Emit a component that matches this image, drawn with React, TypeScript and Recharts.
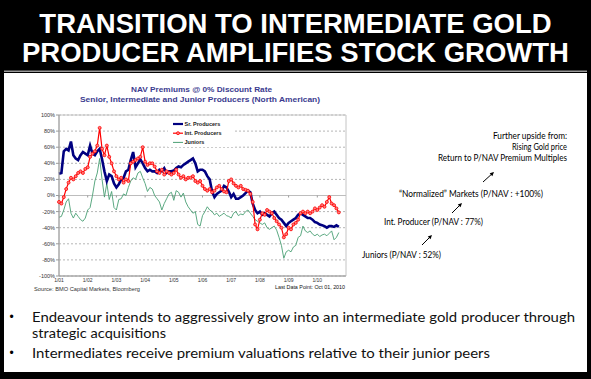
import React from "react";
import { LineChart, Line, XAxis, YAxis, CartesianGrid, ReferenceLine, ReferenceArea, Legend } from "recharts";

// Monthly readings, Jan 2001 .. Oct 2010 (NAV premium, %)
const srProducers = [
  27, 28, 55, 58, 56, 67, 50, 46, 44, 50, 54, 52,
  50, 62, 52, 50, 55, 58, 45, 30, 18, 26, 24, 15,
  10, 14, 20, 22, 30, 32, 44, 54, 35, 40, 45, 40,
  34, 30, 32, 30, 30, 28, 32, 30, 34, 28, 30, 30,
  31, 34, 36, 35, 38, 40, 42, 44, 46, 40, 30, 32,
  32, 30, 24, 20, 5, -2, 2, 4, 6, 12, 10, 5,
  -2, 2, -4, -4, -2, 0, 3, 6, 4, -10, -18, -22,
  -20, -24, -22, -24, -26, -22, -20, -24, -28, -30, -34, -38,
  -34, -32, -30, -28, -24, -22, -24, -26, -28, -28, -30, -33,
  -34, -36, -37, -38, -40, -38, -38, -39, -37, -39,
];
const intProducers = [
  -8, -10, -2, 8, 16, 22, 20, 24, 28, 30, 28, 33,
  35, 48, 52, 55, 62, 84, 58, 50, 62, 48, 40, 30,
  24, 20, 22, 16, 20, 18, 40, 42, 44, 46, 48, 60,
  42, 38, 40, 40, 36, 30, 28, 32, 26, 30, 28, 26,
  28, 32, 26, 22, 24, 20, 22, 22, 24, 18, 16, 18,
  12, 8, 6, 8, 4, 6, 10, 12, 8, 5, 4, 18,
  20, 15, 12, 10, 12, 8, 7, 6, 2, -8, -36, -42,
  -30, -22, -24, -18, -20, -22, -28, -32, -36, -40, -52, -48,
  -40, -42, -36, -34, -30, -22, -20, -22, -20, -22, -20, -16,
  -18, -15, -12, -14, -8, -2, -10, -12, -16, -21,
];
const juniors = [
  -27, -26, -18, -8, -4, -22, -28, -22, -26, -30, -32, -28,
  -18, -15, 0, 18, 28, 46, 20, -2, 15, -5, 5, -15,
  -18, -5, -4, 2, 0, 10, 18, 22, 20, 28, 30, 22,
  15, 5, 10, 8, 0, -4, -8, -18, -10, -4, 2, 4,
  -6, 6, 4, -2, 3, -8, -14, -18, -22, -20, -36, -38,
  -25, -20, -14, -18, -20, -24, -22, -26, -24, -22, -25, -26,
  -28, -22, -20, -25, -23, -24, -20, -18, -22, -26, -30, -32,
  -34, -36, -34, -40, -42, -40, -38, -43, -52, -62, -78, -70,
  -68, -70, -64, -62, -52, -50, -38, -44, -46, -44, -48, -50,
  -48, -51, -49, -48, -50, -47, -44, -55, -52, -46,
];

const yearTickLabels = ["1/01", "1/02", "1/03", "1/04", "1/05", "1/06", "1/07", "1/08", "1/09", "1/10"];
const yTicks = [-100, -80, -60, -40, -20, 0, 20, 40, 60, 80, 100];
const seriesNames = ["Sr. Producers", "Int. Producers", "Juniors"];
const seriesColors = ["#000080", "#ff0000", "#4a9f74"];

const data = srProducers.map((v, i) => ({
  month: i,
  sr: v,
  int: intProducers[i],
  jr: juniors[i],
}));
const xTicks = yearTickLabels.map((_, i) => i * 12);

const ARIAL = "'Liberation Sans', Arial, sans-serif";
const CAL = "Lato, 'Open Sans', sans-serif";

const renderLegend = () => (
  <svg width={66} height={29} style={{ display: "block" }}>
    <rect x={0} y={0} width={66} height={29} fill="#fff" />
    {seriesNames.map((name, i) => {
      const cy = 6 + i * 9.2;
      return (
        <g key={name}>
          <line x1={5} x2={15} y1={cy} y2={cy} stroke={seriesColors[i]} strokeWidth={i === 0 ? 2.2 : i === 1 ? 1.2 : 1} />
          {i === 1 && <circle cx={10} cy={cy} r={1.5} fill="#ff8080" stroke="#ff0000" strokeWidth={0.8} />}
          <text x={16.5} y={cy + 1.9} fontSize={5.5} fontWeight="bold" fontFamily={ARIAL} fill="#222">
            {name}
          </text>
        </g>
      );
    })}
  </svg>
);

const Arrow = ({ x1, y1, x2, y2 }: { x1: number; y1: number; x2: number; y2: number }) => {
  const a = Math.atan2(y2 - y1, x2 - x1);
  const L = 4.5;
  const w = 0.45;
  const p1 = [x2 - L * Math.cos(a - w), y2 - L * Math.sin(a - w)];
  const p2 = [x2 - L * Math.cos(a + w), y2 - L * Math.sin(a + w)];
  return (
    <g>
      <line x1={x1} y1={y1} x2={x2 - 2 * Math.cos(a)} y2={y2 - 2 * Math.sin(a)} stroke="#000" strokeWidth={1} />
      <polygon points={`${x2},${y2} ${p1[0]},${p1[1]} ${p2[0]},${p2[1]}`} fill="#000" />
    </g>
  );
};

export default function App() {
  return (
    <div style={{ position: "fixed", left: 0, top: 0, width: 591, height: 379, overflow: "hidden", background: "#000" }}>
      <svg width={591} height={379} style={{ position: "absolute", left: 0, top: 0 }}>
        <rect x={0} y={0} width={591} height={379} fill="#000" />
        <rect x={4} y={70.5} width={583} height={1.5} fill="#9a9a9a" />
        <rect x={4} y={73} width={583} height={299} fill="#fff" />
        <text x={295.5} y={32.5} textAnchor="middle" fontFamily={ARIAL} fontWeight="bold" fontSize={27.5} fill="#fff">
          TRANSITION TO INTERMEDIATE GOLD
        </text>
        <text x={295.5} y={62} textAnchor="middle" fontFamily={ARIAL} fontWeight="bold" fontSize={27.5} fill="#fff">
          PRODUCER AMPLIFIES STOCK GROWTH
        </text>

        <text x={131} y={92} fontFamily={ARIAL} fontWeight="bold" fontSize={7.4} fill="#3b3b8f" textLength={141} lengthAdjust="spacingAndGlyphs">
          NAV Premiums @ 0% Discount Rate
        </text>
        <text x={80} y={102} fontFamily={ARIAL} fontWeight="bold" fontSize={7} fill="#3b3b8f" textLength={240} lengthAdjust="spacingAndGlyphs">
          Senior, Intermediate and Junior Producers (North American)
        </text>

        <text x={34} y={291} fontFamily={ARIAL} fontSize={5.5} fill="#333" textLength={106} lengthAdjust="spacingAndGlyphs">
          Source: BMO Capital Markets, Bloomberg
        </text>
        <text x={275} y={289} fontFamily={ARIAL} fontSize={6} fill="#111" textLength={70} lengthAdjust="spacingAndGlyphs">
          Last Data Point: Oct 01, 2010
        </text>

        <text x={567} y={138.5} textAnchor="end" fontFamily={CAL} fontSize={8.5} fill="#000" textLength={74} lengthAdjust="spacingAndGlyphs">
          Further upside from:
        </text>
        <text x={567} y={149.8} textAnchor="end" fontFamily={CAL} fontSize={8.5} fill="#000" textLength={55} lengthAdjust="spacingAndGlyphs">
          Rising Gold price
        </text>
        <text x={567} y={161} textAnchor="end" fontFamily={CAL} fontSize={8.5} fill="#000" textLength={129} lengthAdjust="spacingAndGlyphs">
          Return to P/NAV Premium Multiples
        </text>
        <Arrow x1={483} y1={182} x2={494} y2={172} />
        <text x={399} y={197} fontFamily={CAL} fontSize={8.5} fill="#000" textLength={144} lengthAdjust="spacingAndGlyphs">
          “Normalized” Markets (P/NAV : +100%)
        </text>
        <Arrow x1={452} y1={213} x2={462} y2={203} />
        <text x={384} y={225} fontFamily={CAL} fontSize={8.5} fill="#000" textLength={99} lengthAdjust="spacingAndGlyphs">
          Int. Producer (P/NAV : 77%)
        </text>
        <Arrow x1={422} y1={245} x2={432} y2={235} />
        <text x={362} y={258} fontFamily={CAL} fontSize={8.5} fill="#000" textLength={79} lengthAdjust="spacingAndGlyphs">
          Juniors (P/NAV : 52%)
        </text>

        <text x={9.5} y={320.5} fontFamily={ARIAL} fontSize={12} fill="#000">•</text>
        <text x={32} y={322} fontFamily={CAL} fontSize={13.6} fill="#111" textLength={543} lengthAdjust="spacingAndGlyphs">
          Endeavour intends to aggressively grow into an intermediate gold producer through
        </text>
        <text x={32} y={338} fontFamily={CAL} fontSize={13.6} fill="#111" textLength={134} lengthAdjust="spacingAndGlyphs">
          strategic acquisitions
        </text>
        <text x={9.5} y={356.5} fontFamily={ARIAL} fontSize={12} fill="#000">•</text>
        <text x={32} y={358} fontFamily={CAL} fontSize={13.6} fill="#111" textLength={458} lengthAdjust="spacingAndGlyphs">
          Intermediates receive premium valuations relative to their junior peers
        </text>
      </svg>

      <div style={{ position: "absolute", left: 0, top: 0 }}>
        <LineChart width={591} height={379} data={data} margin={{ top: 115, right: 245, bottom: 83, left: 29 }}>
          <CartesianGrid horizontal vertical={false} strokeDasharray="2 2" stroke="#b5b5b5" />
          <ReferenceArea x1={0} x2={120} y1={-100} y2={100} fill="#fff" fillOpacity={0} stroke="#c4c4c4" strokeWidth={1} />
          <ReferenceLine y={0} stroke="#bdbdbd" strokeWidth={1} />
          {xTicks.map((t) => (
            <ReferenceLine key={t} segment={[{ x: t, y: 0 }, { x: t, y: -2.5 }]} stroke="#9a9a9a" />
          ))}
          <XAxis
            type="number"
            dataKey="month"
            domain={[0, 120]}
            ticks={xTicks}
            interval={0}
            tickFormatter={(v: number) => yearTickLabels[Math.round(v / 12)]}
            axisLine={{ stroke: "#9a9a9a" }}
            tickLine={false}
            tickSize={0}
            tickMargin={2}
            height={20}
            tick={{ fontSize: 5, fill: "#333", fontFamily: ARIAL }}
          />
          <YAxis
            type="number"
            domain={[-100, 100]}
            ticks={yTicks}
            interval={0}
            tickFormatter={(v: number) => `${v}%`}
            width={30}
            axisLine={{ stroke: "#9a9a9a" }}
            tickLine={{ stroke: "#9a9a9a" }}
            tickSize={3}
            tickMargin={1}
            tick={{ fontSize: 5.5, fill: "#333", fontFamily: ARIAL }}
          />
          <Legend
            layout="vertical"
            align="center"
            verticalAlign="middle"
            content={renderLegend}
            wrapperStyle={{ position: "absolute", left: 168, top: 118, width: 66, height: 29 }}
          />
          <Line type="linear" dataKey="jr" name={seriesNames[2]} stroke={seriesColors[2]} strokeWidth={0.9} dot={false} isAnimationActive={false} />
          <Line type="linear" dataKey="sr" name={seriesNames[0]} stroke={seriesColors[0]} strokeWidth={2.6} dot={false} isAnimationActive={false} />
          <Line
            type="linear"
            dataKey="int"
            name={seriesNames[1]}
            stroke={seriesColors[1]}
            strokeWidth={1.2}
            dot={{ r: 1.5, stroke: "#ff0000", strokeWidth: 0.8, fill: "#ff8080" }}
            isAnimationActive={false}
          />
        </LineChart>
      </div>
    </div>
  );
}
